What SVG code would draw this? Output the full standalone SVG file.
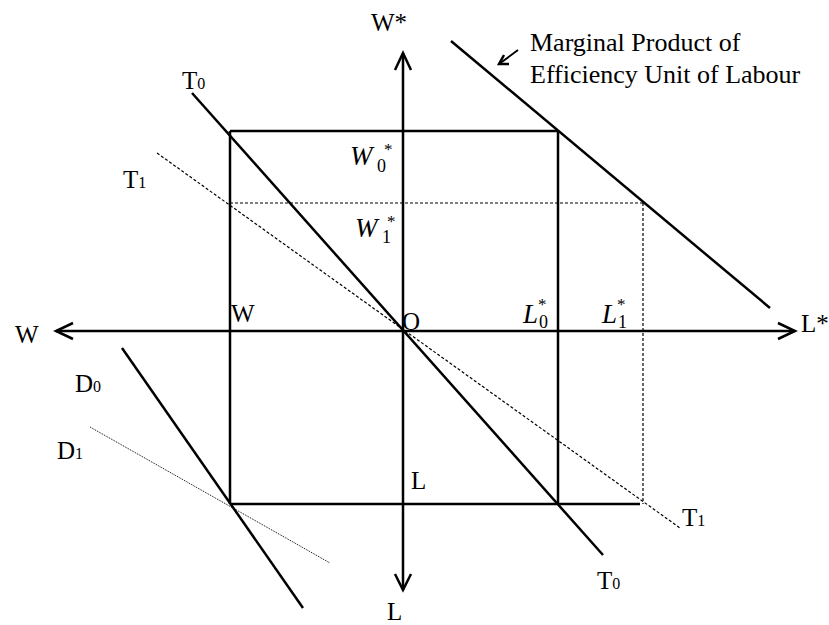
<svg xmlns="http://www.w3.org/2000/svg" width="829" height="625" viewBox="0 0 829 625">
<style>
text{font-family:"Liberation Serif","Times New Roman",serif;font-size:25px;fill:#000}
.sub{font-size:16px}
.it{font-style:italic;font-size:27px}
.isub{font-size:18px;font-style:normal}
.star{font-size:17px;font-style:normal}
.note{font-size:26px}
.thick{stroke:#000;stroke-width:2.5;fill:none}
.dash{stroke:#000;stroke-width:1.2;fill:none;stroke-dasharray:3 2}
.dot{stroke:#000;stroke-width:1;fill:none;stroke-dasharray:1 1}
.head{stroke:#000;stroke-width:2.5;fill:none;stroke-linejoin:miter}
</style>
<rect width="829" height="625" fill="#fff"/>
<g id="axes">
<line class="thick" x1="403" y1="53" x2="403" y2="590"/>
<polyline class="head" points="395,70 403,53 411,70"/>
<polyline class="head" points="395,574 403,590 411,574"/>
<line class="thick" x1="56" y1="331" x2="795" y2="331"/>
<polyline class="head" points="73,323 56,331 73,339"/>
<polyline class="head" points="778,323 795,331 778,339"/>
</g>
<g id="box">
<line class="thick" x1="230" y1="131" x2="558" y2="131"/>
<line class="thick" x1="230" y1="131" x2="230" y2="504"/>
<line class="thick" x1="558" y1="131" x2="558" y2="504"/>
<line class="thick" x1="230" y1="504" x2="640" y2="504"/>
<line class="dash" x1="230" y1="203" x2="643" y2="203"/>
<line class="dash" x1="643" y1="203" x2="643" y2="504"/>
</g>
<g id="curves">
<line class="thick" x1="192" y1="93" x2="603" y2="555"/>
<line class="dash" x1="157" y1="153" x2="680" y2="528"/>
<line class="thick" x1="451" y1="41" x2="770" y2="308"/>
<line class="thick" x1="122" y1="348" x2="303" y2="608"/>
<line class="dot" x1="90" y1="427" x2="330" y2="563"/>
<line stroke="#000" stroke-width="2" x1="518" y1="50" x2="499" y2="64"/>
<polyline class="head" stroke-width="2" points="504,55 499,64 509,64"/>
</g>
<g id="labels">
<text x="371" y="31">W*</text>
<text class="note" x="530" y="51">Marginal Product of</text>
<text class="note" x="530" y="83">Efficiency Unit of Labour</text>
<text x="182" y="89">T<tspan class="sub">0</tspan></text>
<text x="123" y="188">T<tspan class="sub">1</tspan></text>
<text class="it" x="350" y="165">W<tspan class="isub" x="377" y="172">0</tspan><tspan class="star" x="384" y="155">*</tspan></text>
<text class="it" x="355" y="237">W<tspan class="isub" x="382" y="243">1</tspan><tspan class="star" x="387" y="227">*</tspan></text>
<text x="15" y="343">W</text>
<text x="231" y="322">W</text>
<text x="402" y="330">O</text>
<text class="it" x="523" y="323">L<tspan class="isub" x="539" y="328">0</tspan><tspan class="star" x="538" y="310">*</tspan></text>
<text class="it" x="602" y="323">L<tspan class="isub" x="618" y="328">1</tspan><tspan class="star" x="617" y="310">*</tspan></text>
<text x="801" y="332" font-size="24">L*</text>
<text x="75" y="392">D<tspan class="sub">0</tspan></text>
<text x="57" y="459">D<tspan class="sub">1</tspan></text>
<text x="411" y="489">L</text>
<text x="682" y="526">T<tspan class="sub">1</tspan></text>
<text x="597" y="589">T<tspan class="sub">0</tspan></text>
<text x="387" y="620">L</text>
</g>
</svg>
